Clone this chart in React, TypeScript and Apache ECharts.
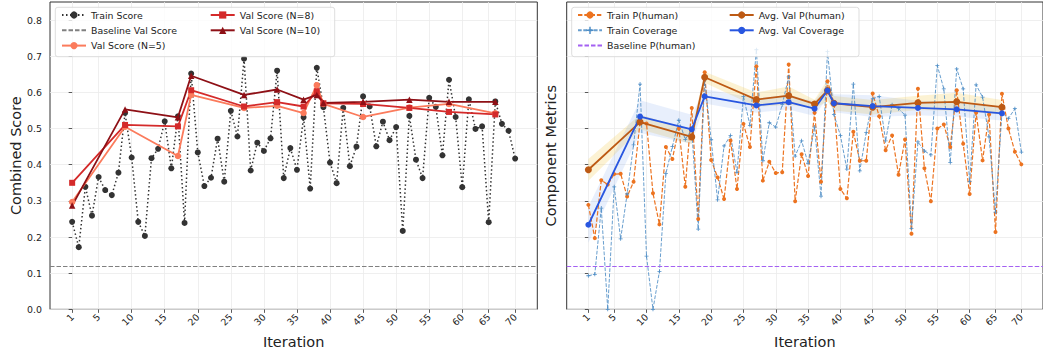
import React, { useEffect, useRef } from 'react';
import * as echarts from 'echarts';

// ---------- data ----------
const iterations = [
  1, 2, 3, 4, 5, 6, 7, 8, 9, 10, 11, 12, 13, 14, 15, 16, 17, 18, 19, 20,
  21, 22, 23, 24, 25, 26, 27, 28, 29, 30, 31, 32, 33, 34, 35, 36, 37, 38, 39, 40,
  41, 42, 43, 44, 45, 46, 47, 48, 49, 50, 51, 52, 53, 54, 55, 56, 57, 58, 59, 60,
  61, 63, 64, 65, 66, 67, 69, 70,
];
const xTickLabels = [1, 5, 10, 15, 20, 25, 30, 35, 40, 45, 50, 55, 60, 65, 70];
const yTickValues = [0, 0.1, 0.2, 0.3, 0.4, 0.5, 0.6, 0.7, 0.8];

const trainScore = [
  0.242, 0.172, 0.339, 0.259, 0.366, 0.330, 0.316, 0.378, 0.543, 0.420,
  0.242, 0.203, 0.418, 0.444, 0.520, 0.390, 0.534, 0.239, 0.652, 0.434,
  0.341, 0.364, 0.472, 0.353, 0.549, 0.478, 0.693, 0.384, 0.461, 0.438,
  0.473, 0.660, 0.363, 0.446, 0.386, 0.531, 0.334, 0.668, 0.559, 0.406,
  0.349, 0.557, 0.396, 0.450, 0.589, 0.561, 0.451, 0.519, 0.468, 0.504,
  0.217, 0.535, 0.414, 0.363, 0.585, 0.560, 0.426, 0.635, 0.532, 0.338,
  0.581, 0.499, 0.506, 0.241, 0.575, 0.513, 0.494, 0.417,
];
const baselineValScore = 0.124;

const valIterations = [1, 9, 17, 19, 27, 32, 36, 38, 39, 45, 52, 58, 66];
const valScoreN5 = [0.297, 0.505, 0.424, 0.593, 0.557, 0.563, 0.543, 0.620, 0.568, 0.532, 0.558, 0.568, 0.542];
const valScoreN8 = [0.350, 0.510, 0.506, 0.606, 0.561, 0.573, 0.561, 0.603, 0.570, 0.568, 0.557, 0.546, 0.539];
const valScoreN10 = [0.287, 0.553, 0.531, 0.646, 0.593, 0.608, 0.580, 0.593, 0.571, 0.574, 0.580, 0.574, 0.574];

const trainPHuman = [
  0.289, 0.197, 0.357, 0.345, 0.374, 0.375, 0.312, 0.353, 0.518, 0.514,
  0.321, 0.235, 0.449, 0.416, 0.500, 0.339, 0.557, 0.250, 0.656, 0.413,
  0.365, 0.305, 0.467, 0.333, 0.513, 0.449, 0.672, 0.356, 0.408, 0.377,
  0.379, 0.677, 0.299, 0.429, 0.369, 0.544, 0.353, 0.631, 0.571, 0.333,
  0.307, 0.491, 0.411, 0.411, 0.597, 0.534, 0.440, 0.481, 0.372, 0.470,
  0.209, 0.610, 0.390, 0.299, 0.500, 0.511, 0.449, 0.606, 0.458, 0.319,
  0.544, 0.412, 0.539, 0.214, 0.596, 0.500, 0.436, 0.401,
];
const trainCoverage = [
  0.093, 0.097, 0.280, 0.000, 0.339, 0.195, 0.319, 0.455, 0.623, 0.147,
  0.000, 0.105, 0.376, 0.450, 0.523, 0.470, 0.497, 0.222, 0.635, 0.469,
  0.303, 0.452, 0.481, 0.379, 0.589, 0.509, 0.718, 0.411, 0.516, 0.504,
  0.566, 0.643, 0.424, 0.466, 0.404, 0.504, 0.313, 0.713, 0.539, 0.481,
  0.388, 0.623, 0.383, 0.489, 0.582, 0.589, 0.466, 0.566, 0.555, 0.537,
  0.223, 0.463, 0.438, 0.427, 0.674, 0.610, 0.406, 0.665, 0.610, 0.353,
  0.621, 0.587, 0.477, 0.269, 0.544, 0.528, 0.555, 0.435,
];
const baselinePHuman = 0.124;

const avgValPHuman = [0.386, 0.518, 0.477, 0.642, 0.580, 0.591, 0.568, 0.605, 0.570, 0.559, 0.571, 0.574, 0.559];
const avgValPHumanStd = [0.03, 0.02, 0.02, 0.015, 0.02, 0.025, 0.012, 0.03, 0.02, 0.02, 0.02, 0.025, 0.02];
const avgValCoverage = [0.234, 0.533, 0.498, 0.589, 0.564, 0.573, 0.555, 0.605, 0.570, 0.562, 0.557, 0.553, 0.542];
const avgValCoverageStd = [0.05, 0.045, 0.04, 0.02, 0.02, 0.02, 0.02, 0.02, 0.025, 0.03, 0.02, 0.02, 0.02];

// ---------- helpers ----------
const FONT = 'DejaVu Sans';
const pos = (it: number) => iterations.indexOf(it);
const xTickPos = xTickLabels.map(pos);
const valPos = valIterations.map(pos);
const pairs = (xs: number[], ys: number[]) => ys.map((y, i) => [xs[i], y]);
const idxPairs = (ys: number[]) => ys.map((y, i) => [i, y]);

const GRID_W = 487.3;
const GRID_TOP = 2;
const GRID_H = 309;

function xAxis(gridIndex: number) {
  return {
    type: 'value',
    gridIndex,
    min: -3.35,
    max: 70.35,
    name: 'Iteration',
    nameLocation: 'middle',
    nameGap: 24,
    nameTextStyle: { fontSize: 14.5, color: '#222', fontFamily: FONT },
    axisLine: { show: false },
    axisTick: { show: true, length: 3.5, customValues: xTickPos, lineStyle: { color: '#333', width: 0.8 } },
    axisLabel: {
      customValues: xTickPos,
      rotate: 45,
      margin: 6,
      fontSize: 9.4,
      color: '#222',
      fontFamily: FONT,
      formatter: (v: number) => String(iterations[Math.round(v)]),
    },
    splitLine: { show: true, lineStyle: { color: '#ebebeb', width: 0.8 } },
  };
}

function yAxis(gridIndex: number, name: string, showLabels: boolean, nameGap: number) {
  return {
    type: 'value',
    gridIndex,
    min: 0,
    max: 0.85,
    name,
    nameLocation: 'middle',
    nameGap,
    nameTextStyle: { fontSize: 14.5, color: '#222', fontFamily: FONT },
    axisLine: { show: false },
    axisTick: { show: true, length: 3.5, customValues: yTickValues, lineStyle: { color: '#333', width: 0.8 } },
    axisLabel: {
      show: showLabels,
      customValues: yTickValues,
      margin: 8,
      fontSize: 9.4,
      color: '#222',
      fontFamily: FONT,
      formatter: (v: number) => v.toFixed(1),
    },
    splitLine: { show: true, lineStyle: { color: '#ebebeb', width: 0.8 } },
  };
}

function band(xs: number[], mean: number[], std: number[], color: string, ax: number) {
  return {
    type: 'custom',
    xAxisIndex: ax,
    yAxisIndex: ax,
    silent: true,
    z: 1,
    data: pairs(xs, mean),
    encode: { x: 0, y: 1 },
    renderItem: (params: any, api: any) => {
      if (params.dataIndex !== 0) return null;
      const upper = xs.map((x, k) => api.coord([x, mean[k] + std[k]]));
      const lower = xs.map((x, k) => api.coord([x, mean[k] - std[k]])).reverse();
      return { type: 'polygon', shape: { points: upper.concat(lower) }, style: { fill: color } };
    },
  };
}

function baselineSeries(name: string, value: number, color: string, ax: number, dash: number[]) {
  return {
    name,
    type: 'line',
    xAxisIndex: ax,
    yAxisIndex: ax,
    data: [],
    symbol: 'none',
    itemStyle: { color },
    lineStyle: { color, type: dash, width: 1.2 },
    markLine: {
      silent: true,
      symbol: 'none',
      label: { show: false },
      lineStyle: { color, type: dash, width: 1.2 },
      data: [{ yAxis: value }],
    },
  };
}

const PLUS = 'path://M4 0h2v4h4v2h-4v4h-2v-4h-4v-2h4z';

const legendText = { fontSize: 9.4, color: '#222', fontFamily: FONT };
function legend(data: any[], left: number) {
  return {
    data,
    left,
    top: 10.5,
    orient: 'vertical',
    itemWidth: 24,
    itemHeight: 9,
    itemGap: 6.3,
    padding: 0,
    selectedMode: false,
    textStyle: legendText,
  };
}
const noSymbol = (name: string) => ({ name, itemStyle: { opacity: 0 } });

export default function App() {
  const ref = useRef<HTMLDivElement>(null);

  useEffect(() => {
    if (!ref.current) return;
    const chart = echarts.init(ref.current, undefined, { renderer: 'svg' });

    const option: any = {
      animation: false,
      backgroundColor: '#ffffff',
      grid: [
        { left: 50, top: GRID_TOP, width: GRID_W, height: GRID_H, show: true, borderColor: '#333', borderWidth: 1, backgroundColor: 'transparent' },
        { left: 566.7, top: GRID_TOP, width: GRID_W, height: GRID_H, show: true, borderColor: '#333', borderWidth: 1, backgroundColor: 'transparent' },
      ],
      xAxis: [xAxis(0), xAxis(1)],
      yAxis: [yAxis(0, 'Combined Score', true, 26), yAxis(1, 'Component Metrics', false, 8)],
      legend: [
        legend(['Train Score', noSymbol('Baseline Val Score'), 'Val Score (N=5)'], 61),
        legend(['Val Score (N=8)', 'Val Score (N=10)'], 209.7),
        legend(['Train P(human)', 'Train Coverage', noSymbol('Baseline P(human)')], 577),
        legend(['Avg. Val P(human)', 'Avg. Val Coverage'], 728.7),
      ],
      graphic: [
        {
          type: 'rect', z: 3,
          shape: { x: 55.3, y: 7.3, width: 279.4, height: 49.4, r: 2.5 },
          style: { fill: 'rgba(255,255,255,0.8)', stroke: '#d4d4d4', lineWidth: 0.8 },
        },
        {
          type: 'rect', z: 3,
          shape: { x: 571.7, y: 7.3, width: 287.3, height: 49.4, r: 2.5 },
          style: { fill: 'rgba(255,255,255,0.8)', stroke: '#d4d4d4', lineWidth: 0.8 },
        },
      ],
      series: [
        // ----- left chart -----
        {
          name: 'Train Score', type: 'line', xAxisIndex: 0, yAxisIndex: 0,
          data: idxPairs(trainScore),
          symbol: 'circle', symbolSize: 6,
          itemStyle: { color: '#333333' },
          lineStyle: { color: '#333333', width: 1.5, type: [1.5, 2.5] },
          z: 2,
        },
        baselineSeries('Baseline Val Score', baselineValScore, '#808080', 0, [4.5, 2]),
        {
          name: 'Val Score (N=5)', type: 'line', xAxisIndex: 0, yAxisIndex: 0,
          data: pairs(valPos, valScoreN5),
          symbol: 'circle', symbolSize: 6.5,
          itemStyle: { color: '#fb7b5c' },
          lineStyle: { color: '#fb7b5c', width: 1.8 },
          z: 3,
        },
        {
          name: 'Val Score (N=8)', type: 'line', xAxisIndex: 0, yAxisIndex: 0,
          data: pairs(valPos, valScoreN8),
          symbol: 'rect', symbolSize: 6,
          itemStyle: { color: '#d42a2a' },
          lineStyle: { color: '#d42a2a', width: 1.8 },
          z: 3,
        },
        {
          name: 'Val Score (N=10)', type: 'line', xAxisIndex: 0, yAxisIndex: 0,
          data: pairs(valPos, valScoreN10),
          symbol: 'triangle', symbolSize: 6.5,
          itemStyle: { color: '#8e1016' },
          lineStyle: { color: '#8e1016', width: 1.8 },
          z: 3,
        },
        // ----- right chart -----
        band(valPos, avgValPHuman, avgValPHumanStd, 'rgba(242, 205, 80, 0.25)', 1),
        band(valPos, avgValCoverage, avgValCoverageStd, 'rgba(110, 155, 235, 0.16)', 1),
        {
          name: 'Train P(human)', type: 'line', xAxisIndex: 1, yAxisIndex: 1,
          data: idxPairs(trainPHuman),
          symbol: 'circle', symbolSize: 4,
          itemStyle: { color: '#ec7320' },
          lineStyle: { color: '#ec7320', width: 1.2, type: [4.4, 1.9] },
          z: 2,
        },
        {
          name: 'Train Coverage', type: 'line', xAxisIndex: 1, yAxisIndex: 1,
          data: idxPairs(trainCoverage),
          symbol: PLUS, symbolSize: 4,
          itemStyle: { color: '#4d8dc6' },
          lineStyle: { color: '#4d8dc6', width: 1, type: [3.7, 1.6], opacity: 0.85 },
          z: 2,
        },
        baselineSeries('Baseline P(human)', baselinePHuman, '#a461f2', 1, [4.5, 2]),
        {
          name: 'Avg. Val P(human)', type: 'line', xAxisIndex: 1, yAxisIndex: 1,
          data: pairs(valPos, avgValPHuman),
          symbol: 'circle', symbolSize: 7,
          itemStyle: { color: '#bd5a14' },
          lineStyle: { color: '#bd5a14', width: 1.8 },
          z: 3,
        },
        {
          name: 'Avg. Val Coverage', type: 'line', xAxisIndex: 1, yAxisIndex: 1,
          data: pairs(valPos, avgValCoverage),
          symbol: 'circle', symbolSize: 6,
          itemStyle: { color: '#2856e0' },
          lineStyle: { color: '#2856e0', width: 1.8 },
          z: 3,
        },
      ],
    };

    chart.setOption(option);
    return () => chart.dispose();
  }, []);

  return (
    <div
      ref={ref}
      style={{ position: 'fixed', left: 0, top: 0, width: 1043, height: 354, background: '#fff' }}
    />
  );
}
